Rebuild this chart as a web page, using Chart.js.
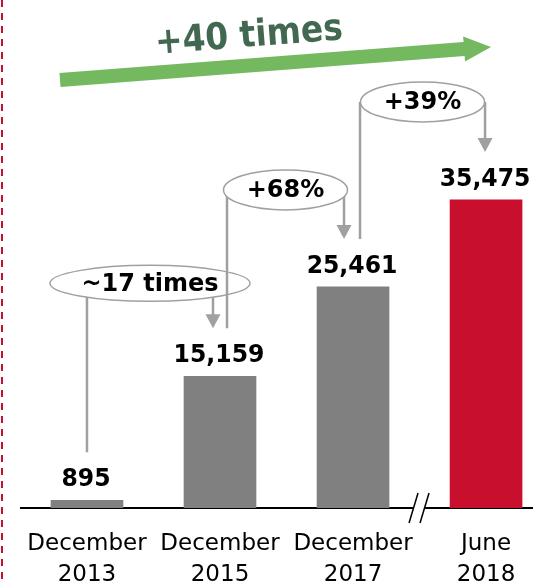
<!DOCTYPE html>
<html>
<head>
<meta charset="utf-8">
<script src="https://cdn.jsdelivr.net/npm/chart.js@4/dist/chart.umd.min.js"></script>
<style>
  html, body { margin: 0; padding: 0; background: #fff; }
  canvas { display: block; }
</style>
</head>
<body>
<canvas id="chart" width="533" height="585"></canvas>
<script>
const CATEGORIES = [ ['December', '2013'], ['December', '2015'], ['December', '2017'], ['June', '2018'] ];
const CUSTOMERS = [ 895, 15159, 25461, 35475 ];
const GROWTH = [ '~17 times', '+68%', '+39%' ];
const TOTAL_GROWTH = '+40 times';

const BAR_COLORS = [ '#808080', '#808080', '#808080', '#c8102e' ];
const FONT = '"DejaVu Sans", Verdana, sans-serif';

// small offsets of the connector lines and bubbles around each bar
const LINE_DX = [ 0, 7, 7 ];
const ARROW_DX = [ -7, -9, -1 ];
const ELLIPSE_RX = [ 100, 62, 62 ];
const ELLIPSE_RY = [ 18, 20, 20 ];
const ELLIPSE_DY = [ -45, -49, -50 ];

let arrowHead = function(ctx, x, y) {
  ctx.beginPath();
  ctx.moveTo(x - 7.5, y - 14);
  ctx.lineTo(x + 7.5, y - 14);
  ctx.lineTo(x, y);
  ctx.closePath();
  ctx.fill();
};

// text squeezed a little sideways, closer to the narrow original face
let narrowText = function(ctx, text, x, y, sx) {
  ctx.save();
  ctx.translate(x, y);
  ctx.scale(sx, 1);
  ctx.fillText(text, 0, 0);
  ctx.restore();
};

let decorations = {
  id: 'decorations',
  afterDatasetsDraw(chart) {
    const { ctx, chartArea } = chart;
    const x = chart.scales.x, y = chart.scales.y;
    ctx.save();

    // red dashed border on the left
    ctx.strokeStyle = '#c8102e';
    ctx.lineWidth = 2;
    ctx.setLineDash([7, 6]);
    ctx.beginPath();
    ctx.moveTo(2, 0);
    ctx.lineTo(2, chart.height);
    ctx.stroke();
    ctx.setLineDash([]);

    // axis break between the last two categories
    const bx = (x.getPixelForValue(2) + x.getPixelForValue(3)) / 2;
    const by = chartArea.bottom;
    ctx.fillStyle = '#fff';
    ctx.fillRect(bx - 6, by - 2, 11, 4);
    ctx.strokeStyle = '#000';
    ctx.lineWidth = 1.5;
    [ -6, 5 ].forEach(function(d) {
      ctx.beginPath();
      ctx.moveTo(bx + d + 4.5, by - 15);
      ctx.lineTo(bx + d - 4.5, by + 15);
      ctx.stroke();
    });

    // value labels
    ctx.fillStyle = '#000';
    ctx.font = 'bold 24px ' + FONT;
    ctx.textAlign = 'center';
    ctx.textBaseline = 'alphabetic';
    CUSTOMERS.forEach(function(v, i) {
      narrowText(ctx, v.toLocaleString('en-US'), x.getPixelForValue(i) - 1, y.getPixelForValue(v) - 14, 0.98);
    });

    // growth connectors
    GROWTH.forEach(function(text, k) {
      const x0 = x.getPixelForValue(k) + LINE_DX[k];
      const x1 = x.getPixelForValue(k + 1) + ARROW_DX[k];
      const top0 = y.getPixelForValue(CUSTOMERS[k]) - 48;
      const top1 = y.getPixelForValue(CUSTOMERS[k + 1]) - 48;
      const cx = (x0 + x1) / 2, cy = top1 + ELLIPSE_DY[k];

      ctx.strokeStyle = '#a0a0a0';
      ctx.fillStyle = '#a0a0a0';
      ctx.lineWidth = 2.5;
      ctx.beginPath();
      ctx.moveTo(x0, cy);
      ctx.lineTo(x0, top0);
      ctx.moveTo(x1, cy);
      ctx.lineTo(x1, top1 - 13);
      ctx.stroke();
      arrowHead(ctx, x1, top1);

      ctx.beginPath();
      ctx.ellipse(cx, cy, ELLIPSE_RX[k], ELLIPSE_RY[k], 0, 0, Math.PI * 2);
      ctx.fillStyle = '#fff';
      ctx.fill();
      ctx.lineWidth = 1.5;
      ctx.stroke();

      ctx.fillStyle = '#000';
      ctx.font = 'bold 24px ' + FONT;
      ctx.textBaseline = 'middle';
      ctx.fillText(text, cx, cy + 1);
    });

    // big green arrow across the top
    const sx = 60, sy = 80, ex = 491, ey = 47;
    const len = Math.hypot(ex - sx, ey - sy);
    const ux = (ex - sx) / len, uy = (ey - sy) / len;
    const px = -uy, py = ux;
    const hx = ex - ux * 27, hy = ey - uy * 27;
    ctx.fillStyle = '#74b95f';
    ctx.beginPath();
    ctx.moveTo(sx + px * 7, sy + py * 7);
    ctx.lineTo(hx + px * 7, hy + py * 7);
    ctx.lineTo(hx + px * 12.5, hy + py * 12.5);
    ctx.lineTo(ex, ey);
    ctx.lineTo(hx - px * 12.5, hy - py * 12.5);
    ctx.lineTo(hx - px * 7, hy - py * 7);
    ctx.lineTo(sx - px * 7, sy - py * 7);
    ctx.closePath();
    ctx.fill();

    ctx.translate(249, 37);
    ctx.rotate(-4.5 * Math.PI / 180);
    ctx.fillStyle = '#426852';
    ctx.font = 'bold 37px ' + FONT;
    ctx.textBaseline = 'middle';
    narrowText(ctx, TOTAL_GROWTH, 0, 0, 0.89);

    ctx.restore();
  }
};

new Chart(document.getElementById('chart').getContext('2d'), {
  type: 'bar',
  data: {
    datasets: [{
      data: CUSTOMERS.map(function(v, i) { return { x: i, y: v }; }),
      backgroundColor: BAR_COLORS,
      barThickness: 72,
    }],
  },
  options: {
    responsive: false,
    animation: false,
    layout: { padding: { left: 21, right: 0, top: 13, bottom: 0 } },
    plugins: { legend: { display: false }, tooltip: { enabled: false } },
    scales: {
      x: {
        type: 'linear',
        offset: false,
        min: -0.496,
        max: 3.353,
        afterBuildTicks: function(scale) {
          scale.ticks = CATEGORIES.map(function(c, i) { return { value: i }; });
        },
        afterFit: function(scale) {
          scale.height = 77;
          scale.paddingLeft = 0;
          scale.paddingRight = 0;
        },
        grid: { display: false, drawTicks: false },
        border: { display: true, color: '#000', width: 2 },
        ticks: {
          autoSkip: false,
          maxRotation: 0,
          padding: 21,
          color: '#000',
          font: { family: FONT, size: 23, lineHeight: 1.32 },
          callback: function(v) { return CATEGORIES[v]; },
        },
      },
      y: { display: false, min: 0, max: 57000 },
    },
  },
  plugins: [ decorations ],
});
</script>
</body>
</html>
